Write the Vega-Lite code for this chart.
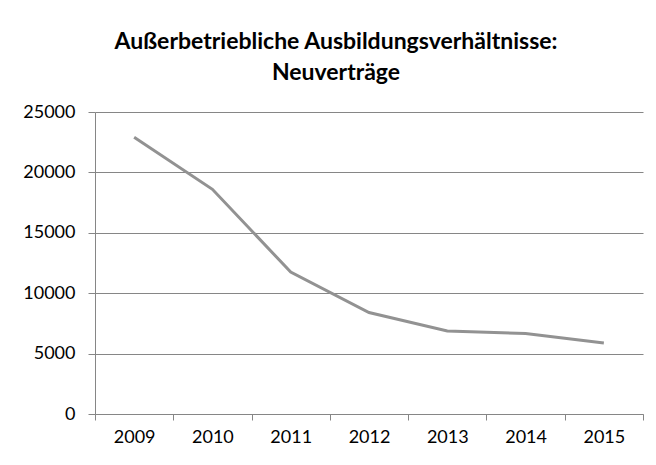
{
  "$schema": "https://vega.github.io/schema/vega-lite/v6.json",
  "width": 548,
  "height": 302,
  "autosize": {"type": "none"},
  "padding": {"left": 95, "top": 112, "right": 13, "bottom": 51},
  "background": "white",
  "title": {
    "text": ["Außerbetriebliche Ausbildungsverhältnisse:", "Neuverträge"],
    "font": "Lato",
    "fontSize": 23,
    "fontWeight": "bold",
    "color": "#000000",
    "anchor": "middle",
    "dx": -33,
    "lineHeight": 31,
    "offset": 18
  },
  "data": {
    "values": [
      {"Jahr": "2009", "Neuvertraege": 22900},
      {"Jahr": "2010", "Neuvertraege": 18600},
      {"Jahr": "2011", "Neuvertraege": 11750},
      {"Jahr": "2012", "Neuvertraege": 8400},
      {"Jahr": "2013", "Neuvertraege": 6870},
      {"Jahr": "2014", "Neuvertraege": 6660},
      {"Jahr": "2015", "Neuvertraege": 5880}
    ]
  },
  "mark": {"type": "line", "color": "#929292", "strokeWidth": 3},
  "encoding": {
    "x": {
      "field": "Jahr",
      "type": "ordinal",
      "bandPosition": 0.5,
      "scale": {"type": "band", "paddingInner": 0, "paddingOuter": 0},
      "axis": {
        "title": null,
        "labelAngle": 0,
        "labelFont": "Lato",
        "labelFontSize": 18,
        "labelColor": "#000000",
        "labelPadding": 8,
        "domainColor": "#868686",
        "tickColor": "#868686",
        "tickBand": "extent",
        "tickSize": 6,
        "grid": false
      }
    },
    "y": {
      "field": "Neuvertraege",
      "type": "quantitative",
      "scale": {"domain": [0, 25000], "nice": false},
      "axis": {
        "title": null,
        "values": [0, 5000, 10000, 15000, 20000, 25000],
        "format": "d",
        "labelFont": "Lato",
        "labelFontSize": 18,
        "labelColor": "#000000",
        "labelPadding": 13,
        "domainColor": "#868686",
        "tickColor": "#868686",
        "tickSize": 7,
        "gridColor": "#868686",
        "gridOpacity": 1
      }
    }
  },
  "config": {"view": {"stroke": null}}
}
